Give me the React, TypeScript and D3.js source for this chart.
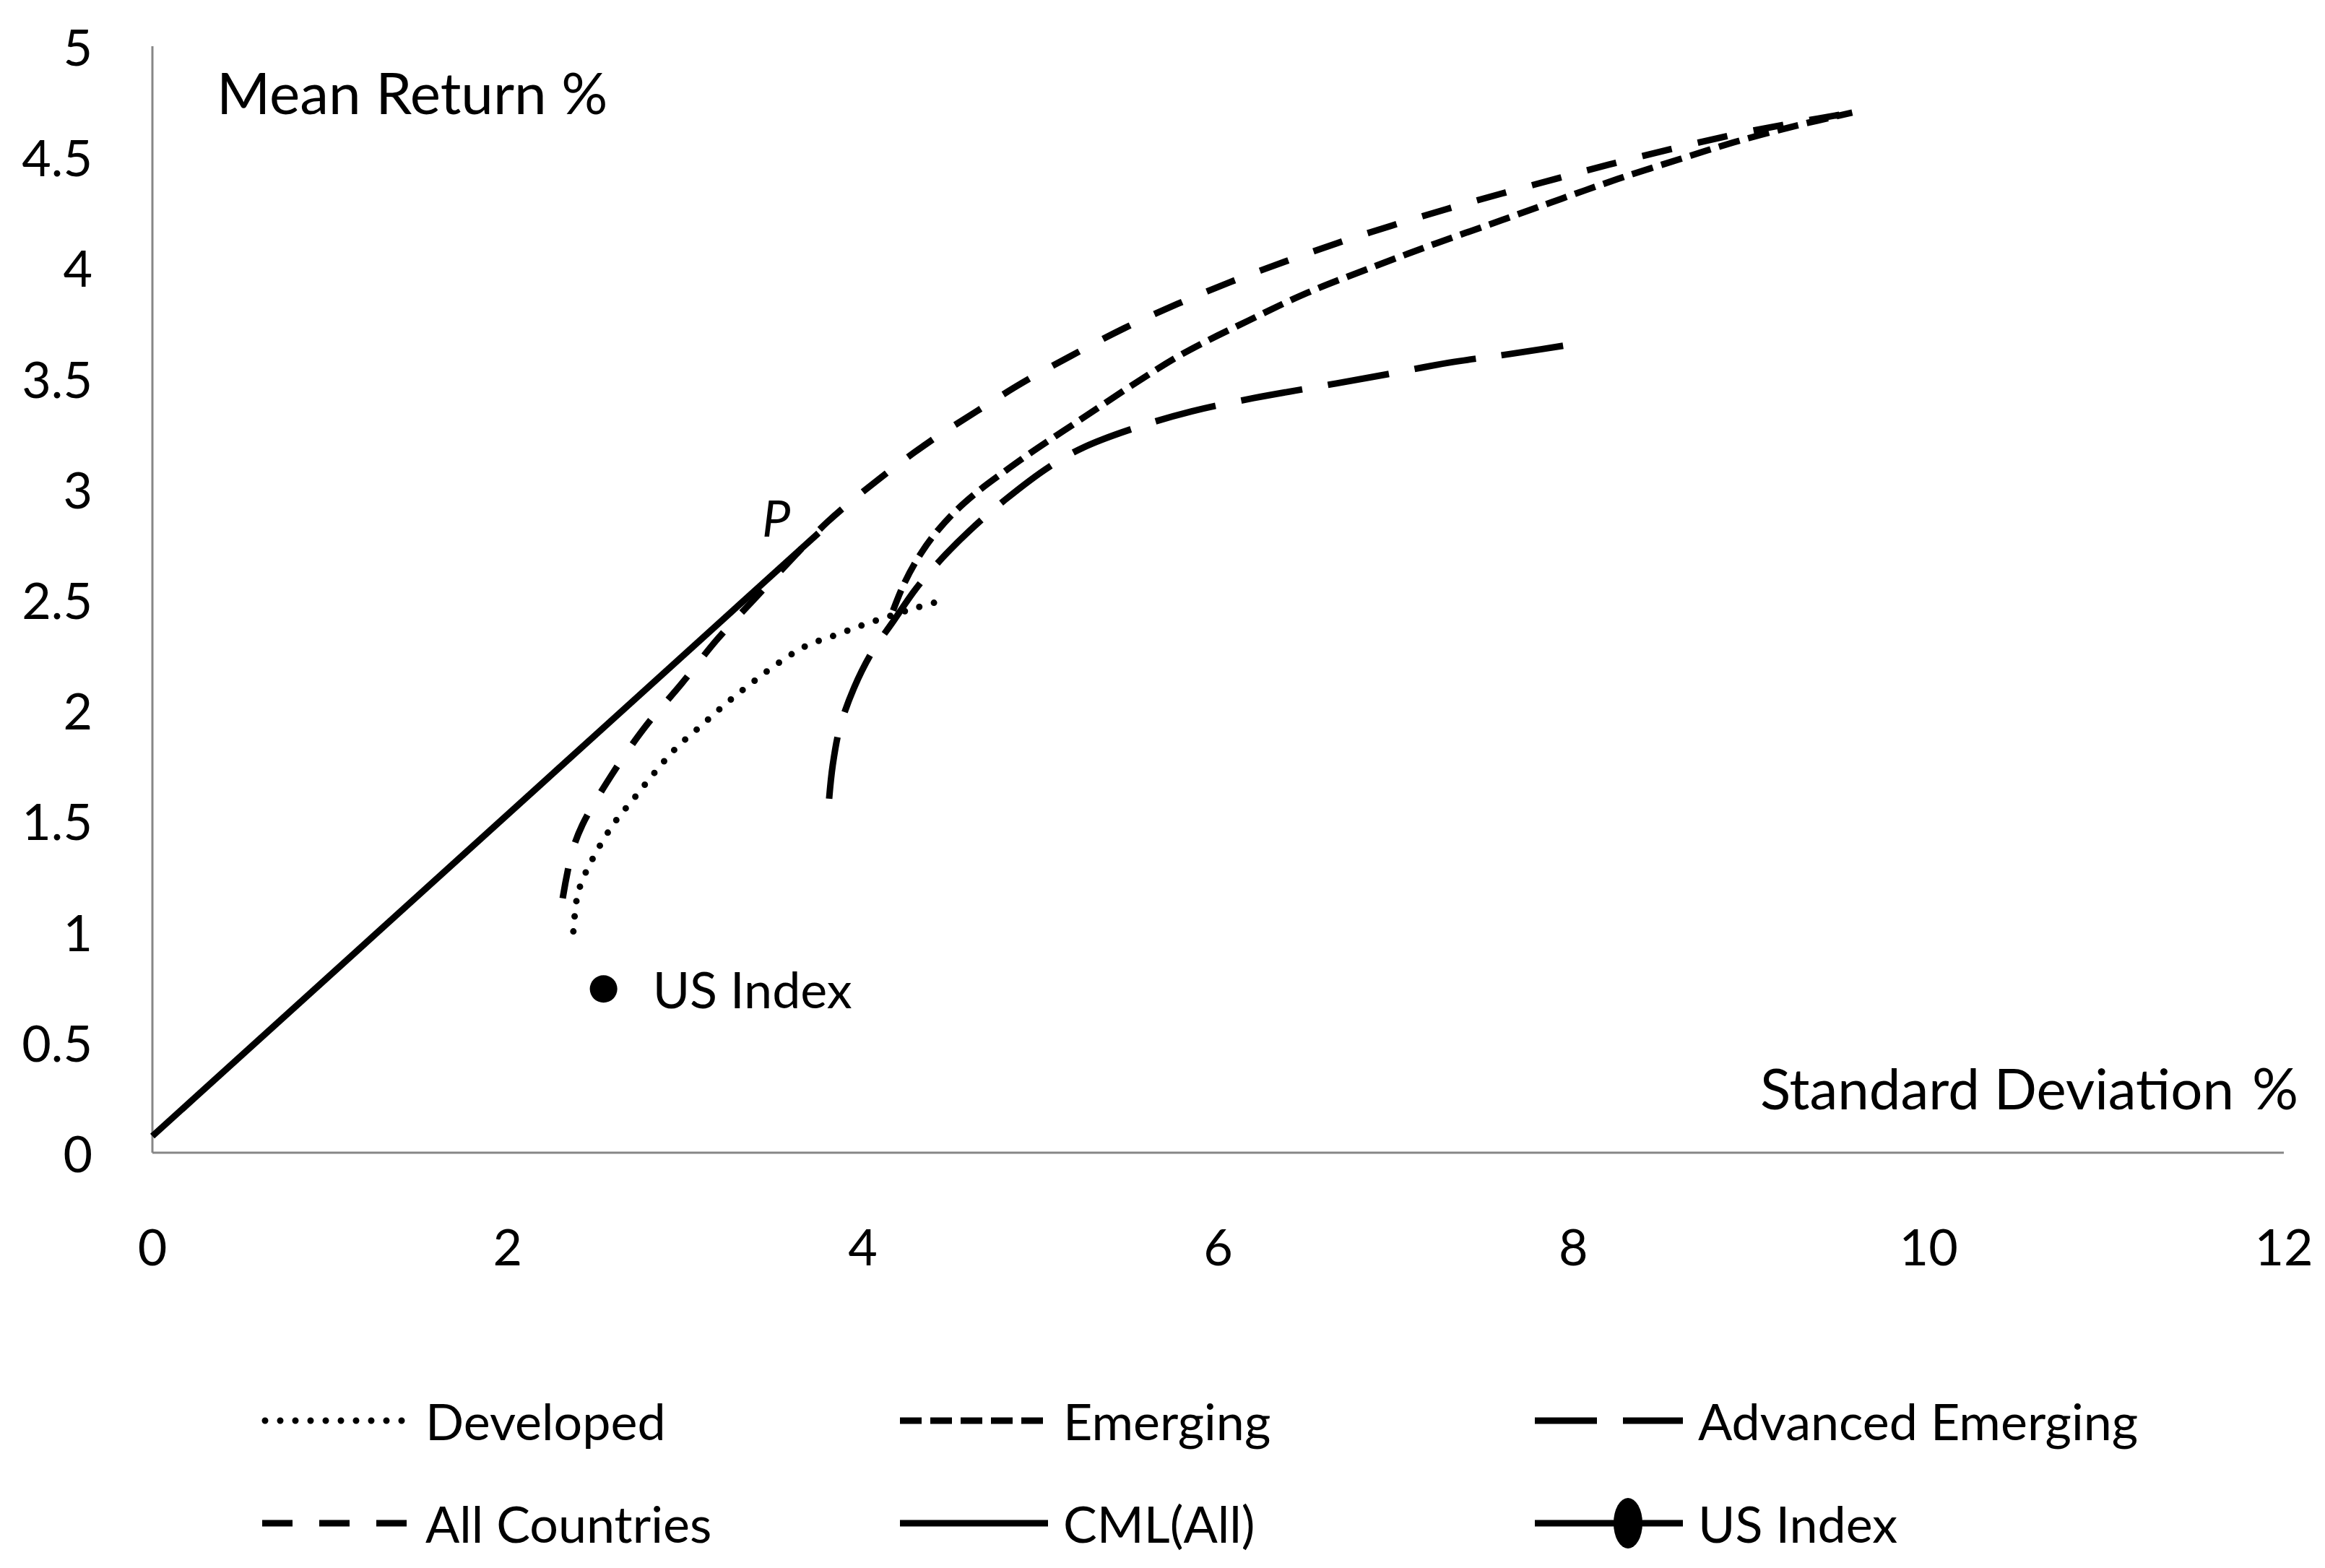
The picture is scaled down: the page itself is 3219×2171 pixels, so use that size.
import * as d3 from "d3";

const W = 3219;
const H = 2171;

// (SD %, mean return %)
const developedSd = [2.37, 2.39, 2.42, 2.5, 2.6, 2.71, 2.83, 2.95, 3.09, 3.23, 3.37, 3.52, 3.68, 3.85, 4.02, 4.29, 4.47];
const developedMean = [1.0, 1.15, 1.23, 1.36, 1.49, 1.6, 1.72, 1.83, 1.93, 2.03, 2.12, 2.21, 2.29, 2.34, 2.39, 2.46, 2.5];

const emergingSd = [4.17, 4.22, 4.29, 4.39, 4.51, 4.65, 4.8, 4.94, 5.22, 5.51, 5.8, 6.17, 6.5, 6.88, 7.23, 7.6, 7.93, 8.25, 8.6, 8.9, 9.25, 9.57];
const emergingMean = [2.45, 2.55, 2.66, 2.78, 2.89, 2.99, 3.08, 3.16, 3.31, 3.465, 3.61, 3.76, 3.885, 4.005, 4.11, 4.215, 4.31, 4.4, 4.49, 4.565, 4.64, 4.7];

const advEmSd = [3.81, 3.83, 3.87, 3.95, 4.05, 4.17, 4.3, 4.45, 4.6, 4.8, 5.05, 5.25, 5.55, 5.85, 6.2, 6.55, 6.9, 7.3, 7.65, 8.05];
const advEmMean = [1.6, 1.75, 1.92, 2.1, 2.26, 2.4, 2.55, 2.69, 2.81, 2.95, 3.1, 3.19, 3.28, 3.35, 3.41, 3.46, 3.51, 3.57, 3.61, 3.66];

const allSd = [2.31, 2.36, 2.42, 2.58, 2.77, 2.98, 3.18, 3.41, 3.62, 3.8, 4.1, 4.37, 4.64, 4.9, 5.17, 5.47, 5.77, 6.07, 6.37, 6.67, 6.98, 7.29, 7.6, 7.92, 8.2, 8.55, 8.9, 9.25, 9.57];
const allMean = [1.15, 1.35, 1.48, 1.7, 1.92, 2.12, 2.32, 2.52, 2.7, 2.85, 3.05, 3.21, 3.35, 3.48, 3.6, 3.725, 3.835, 3.935, 4.025, 4.11, 4.19, 4.265, 4.335, 4.405, 4.465, 4.535, 4.6, 4.655, 4.7];

const cmlSd = [0, 3.75];
const cmlMean = [0.075, 2.8];

const usIndex = { sd: 2.54, mean: 0.74 };

const xTicks = [0, 2, 4, 6, 8, 10, 12];
const yTicks = [0, 0.5, 1, 1.5, 2, 2.5, 3, 3.5, 4, 4.5, 5];

const FONT = "Lato, 'Open Sans', sans-serif";
const FS = 70;
const TITLE_FS = 80;

const x = d3.scaleLinear().domain([0, 12]).range([211, 3162]);
const y = d3.scaleLinear().domain([0, 5]).range([1596, 64]);

type Pt = [number, number];
const zip = (a: number[], b: number[]): Pt[] => a.map((v, i) => [v, b[i]]);

const curve = d3
  .line<Pt>()
  .x((d) => x(d[0]))
  .y((d) => y(d[1]))
  .curve(d3.curveCatmullRom.alpha(0.5));

const series = [
  { name: "Developed", pts: zip(developedSd, developedMean), dash: "0 21", cap: "round" },
  { name: "Emerging", pts: zip(emergingSd, emergingMean), dash: "30 12", cap: "butt" },
  { name: "Advanced Emerging", pts: zip(advEmSd, advEmMean), dash: "86 36", cap: "butt" },
  { name: "All Countries", pts: zip(allSd, allMean), dash: "42 37", cap: "butt" },
  { name: "CML(All)", pts: zip(cmlSd, cmlMean), dash: "none", cap: "butt" },
];

// legend slots: 3 columns x 2 rows
const legendCols = [363, 1246, 2125];
const legendRows = [1967, 2109];
const legendItems = ["Developed", "Emerging", "Advanced Emerging", "All Countries", "CML(All)", "US Index"];
const SAMPLE = 205;

export default function App() {
  return (
    <svg
      width={W}
      height={H}
      viewBox={`0 0 ${W} ${H}`}
      style={{ position: "absolute", left: 0, top: 0, background: "#fff" }}
      fontFamily={FONT}
      fontSize={FS}
    >
      <rect width={W} height={H} fill="#fff" />

      {/* axes */}
      <line x1={x(0)} x2={x(0)} y1={y(5)} y2={y(0)} stroke="#868686" strokeWidth={3} />
      <line x1={x(0)} x2={x(12)} y1={y(0)} y2={y(0)} stroke="#868686" strokeWidth={3} />

      {yTicks.map((t) => (
        <text key={"y" + t} x={128} y={y(t)} textAnchor="end" dominantBaseline="central">
          {String(t)}
        </text>
      ))}
      {xTicks.map((t) => (
        <text key={"x" + t} x={x(t)} y={1725} textAnchor="middle" dominantBaseline="central">
          {String(t)}
        </text>
      ))}

      <text x={300} y={158} fontSize={TITLE_FS}>Mean Return %</text>
      <text x={2437} y={1536} fontSize={78}>Standard Deviation</text>
      <text x={3182} y={1536} fontSize={TITLE_FS} textAnchor="end">%</text>

      {/* series */}
      {series.map((s) => (
        <path
          key={s.name}
          d={curve(s.pts) ?? ""}
          fill="none"
          stroke="#000"
          strokeWidth={9}
          strokeDasharray={s.dash}
          strokeLinecap={s.cap as any}
        />
      ))}

      <circle cx={x(usIndex.sd)} cy={y(usIndex.mean)} r={19} fill="#000" />
      <text x={x(usIndex.sd) + 68} y={y(usIndex.mean)} dominantBaseline="central">US Index</text>

      <text x={1055} y={743} fontStyle="italic">P</text>

      {/* legend */}
      {legendItems.map((name, i) => {
        const cx = legendCols[i % 3];
        const cy = legendRows[Math.floor(i / 3)];
        const s = series.find((d) => d.name === name);
        return (
          <g key={name}>
            {s ? (
              <line
                x1={s.cap === "round" ? cx + 4 : cx}
                x2={cx + SAMPLE}
                y1={cy}
                y2={cy}
                stroke="#000"
                strokeWidth={9}
                strokeDasharray={s.dash}
                strokeLinecap={s.cap as any}
              />
            ) : (
              <>
                <line x1={cx} x2={cx + SAMPLE} y1={cy} y2={cy} stroke="#000" strokeWidth={9} />
                <ellipse cx={cx + 129} cy={cy} rx={20} ry={35} fill="#000" />
              </>
            )}
            <text x={cx + 226} y={cy} dominantBaseline="central">{name}</text>
          </g>
        );
      })}
    </svg>
  );
}
